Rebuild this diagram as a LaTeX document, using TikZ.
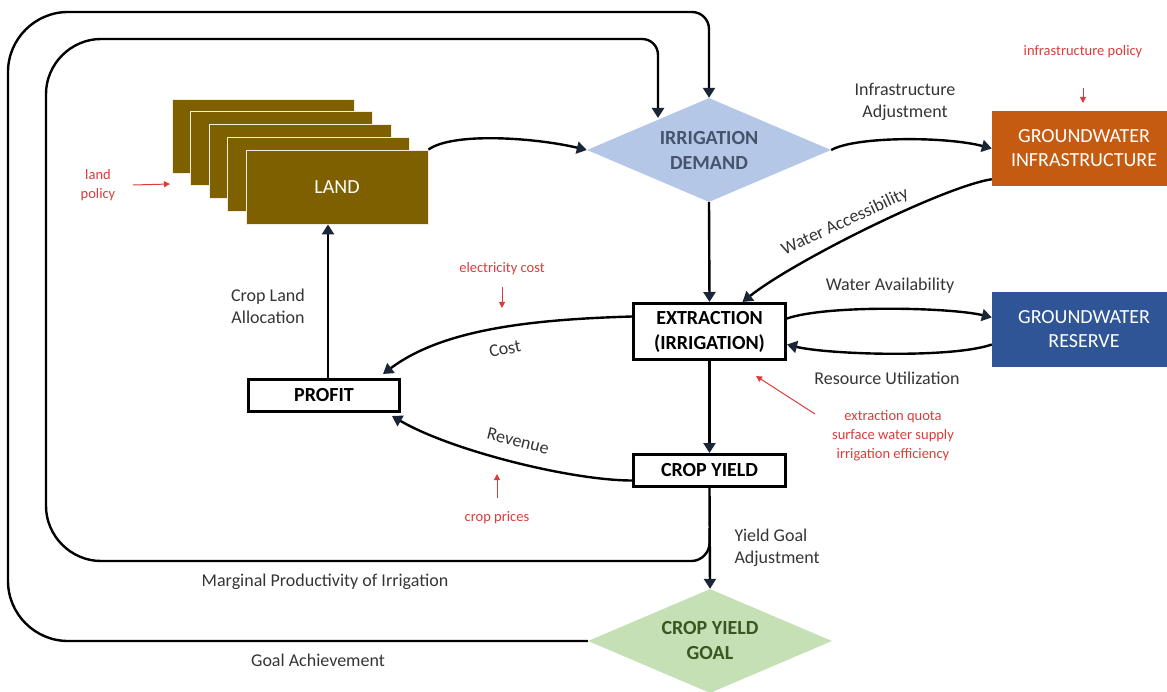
\documentclass[tikz,border=0pt]{standalone}
\usepackage{fontspec}
\setmainfont{Carlito}
\usetikzlibrary{shapes.geometric,arrows.meta}
\definecolor{landbrown}{HTML}{7F6000}
\definecolor{infraorange}{HTML}{C55A11}
\definecolor{reserveblue}{HTML}{2F5597}
\definecolor{demandblue}{HTML}{B4C7E7}
\definecolor{demandtext}{HTML}{44546A}
\definecolor{goalgreen}{HTML}{C5E0B4}
\definecolor{goaltext}{HTML}{385723}
\definecolor{policyred}{HTML}{DD3B3B}
\definecolor{labelgray}{HTML}{353535}
\definecolor{tipnavy}{HTML}{1B2538}
\tikzset{
  flow/.style={draw=black, line width=2.4pt, -{Triangle[length=10pt,width=12pt,color=tipnavy]}},
  nudge/.style={draw=policyred, line width=1pt, -{Triangle[length=6pt,width=6pt]}},
  box/.style={draw=black, line width=3pt, fill=white, inner sep=0pt, align=center,
    font=\fontsize{20}{25}\selectfont\bfseries},
  landbox/.style={fill=landbrown, draw=white!88!landbrown, line width=0.8pt, inner sep=0pt,
    minimum width=182pt, minimum height=74pt, text=white, font=\fontsize{20}{24}\selectfont},
  gwbox/.style={text=white, inner sep=0pt, align=center, minimum width=184pt, minimum height=75pt,
    font=\fontsize{20}{24}\selectfont},
  decision/.style={diamond, aspect=2.35, minimum width=244pt, minimum height=104pt, inner sep=0pt,
    align=center, font=\fontsize{20}{25}\selectfont\bfseries},
  lbl/.style={text=labelgray, align=center, font=\fontsize{18}{22}\selectfont},
  policy/.style={text=policyred, align=center, font=\fontsize{14.5}{19}\selectfont}
}
\begin{document}
\begin{tikzpicture}[x=1pt,y=-1pt]
    \useasboundingbox (0,0) rectangle (1167,692);
    \foreach \i in {0,...,3}
    \node[landbox] (land\i) at ({263+18.5*\i},{136+12.7*\i}) {};
    \node[landbox] (land) at (337,187) {LAND};

    \node[decision, fill=demandblue, text=demandtext] (demand) at (709,150) {IRRIGATION\\DEMAND};
    \node[decision, fill=goalgreen, text=goaltext] (goal) at (710,641) {CROP YIELD\\GOAL};
    \node[gwbox, fill=infraorange] (infra) at (1084,148.5) {GROUNDWATER\\INFRASTRUCTURE};
    \node[gwbox, fill=reserveblue] (reserve) at (1084,329.5) {GROUNDWATER\\RESERVE};
    \node[box, minimum width=152pt, minimum height=56pt] (extract) at (709.5,331.5) {EXTRACTION\\(IRRIGATION)};
    \node[box, minimum width=152pt, minimum height=32pt] (cropyield) at (709.5,470.5) {CROP YIELD};
    \node[box, minimum width=151pt, minimum height=32pt] (profit) at (324,395.5) {PROFIT};

    \coordinate (split) at (709.5,528);
    \coordinate (dmdin) at (658,118);
    \draw[flow] (goal.west) -- (68,641) .. controls (35,641) and (8,614) .. (8,581) -- (8,72)
        .. controls (8,39) and (35,12) .. (68,12) -- (692,12)
        .. controls (701.4,12) and (709,19.6) .. (709,29) -- (demand.north);
    \draw[flow] (split) -- (709.5,543) .. controls (709.5,553) and (701,561) .. (691.5,561) -- (101,561)
        .. controls (71,561) and (46,536) .. (46,506) -- (46,94)
        .. controls (46,64) and (71,39) .. (101,39) -- (642,39)
        .. controls (651,39) and (658,46) .. (658,55) -- (dmdin);

    \draw[flow] (land.north east) .. controls +(25,-18) and +(-50,-12) .. (demand.west);
    \draw[flow] (demand.east) .. controls +(25,-14) and +(-45,-12) .. (infra.west);
    \draw[flow] ([yshift=7pt]infra.south west) .. controls +(-50,8) and +(50,-40) .. ([xshift=33pt]extract.north);
    \draw[flow] (demand.south) -- (extract.north);
    \draw[flow] ([yshift=13pt]extract.east) .. controls +(40,-14) and +(-40,-10) .. ([yshift=12pt]reserve.west);
    \draw[flow] ([yshift=-15pt]reserve.west) .. controls +(-40,14) and +(40,10) .. ([yshift=-13pt]extract.east);
    \draw[flow] ([yshift=15pt]extract.west) .. controls +(-100,3) and +(60,-45) .. ([xshift=-18pt,yshift=4pt]profit.north east);
    \draw[flow] ([yshift=-10pt]cropyield.west) .. controls +(-60,0) and +(60,35) .. ([xshift=-9pt,yshift=-3pt]profit.south east);
    \draw[flow] ([xshift=4pt]profit.north) -- ([xshift=4pt]profit.north |- land.south);
    \draw[flow] (extract.south) -- (cropyield.north);
    \draw[flow] (cropyield.south) -- (goal.north);

    \node[lbl] (adjlbl) at (905,102) {Infrastructure\\Adjustment};
    \node[lbl, rotate=25] (acclbl) at (845,222) {Water Accessibility};
    \node[lbl] (availlbl) at (890,286) {Water Availability};
    \node[lbl] (utillbl) at (887,378) {Resource Utilization};
    \node[lbl, rotate=12] (costlbl) at (505,349) {Cost};
    \node[lbl, rotate=-14] (revlbl) at (518,441) {Revenue};
    \node[lbl] (alloclbl) at (268,306) {Crop Land\\Allocation};
    \node[lbl, align=left, anchor=west] (goaladj) at (731,548) {Yield Goal\\Adjustment};
    \node[lbl] (marglbl) at (325,582) {Marginal Productivity of Irrigation};
    \node[lbl] (achlbl) at (318,660) {Goal Achievement};

    \node[policy] (landpol) at (98,185) {land\\policy};
    \node[policy] (infrapol) at (1083,52) {infrastructure policy};
    \node[policy] (eleccost) at (502,269) {electricity cost};
    \node[policy] (cropprice) at (497,518) {crop prices};
    \node[policy] (quota) at (893,436) {extraction quota\\surface water supply\\irrigation efficiency};
    \coordinate (landin) at (170,184);
    \coordinate (infrain) at (1083,103);
    \coordinate (elecin) at (502,308);
    \coordinate (pricein) at (497,474);
    \coordinate (quotafrom) at (815,414);
    \coordinate (quotain) at (756,376);
    \draw[nudge] ([xshift=14pt]landpol.east) -- (landin);
    \draw[nudge] ([yshift=-26pt]infrapol.south) -- (infrain);
    \draw[nudge] ([yshift=-8pt]eleccost.south) -- (elecin);
    \draw[nudge] ([yshift=10pt]cropprice.north) -- (pricein);
    \draw[nudge] (quotafrom) -- (quotain);
\end{tikzpicture}
\end{document}
